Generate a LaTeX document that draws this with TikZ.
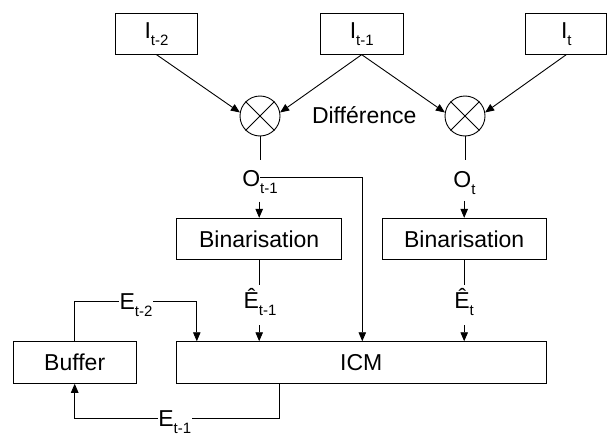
\documentclass[tikz,border=0pt]{standalone}
\usepackage{fontspec}
\setmainfont{Liberation Sans}
\usetikzlibrary{arrows.meta}
\newcommand{\mysub}[1]{\raisebox{-7pt}{\fontsize{15}{15}\selectfont #1}}
\tikzset{
  every node/.style={font=\fontsize{23}{27}\selectfont},
  box/.style={draw, line width=0.9pt, inner sep=0pt, minimum height=41pt},
  mix/.style={draw, line width=0.9pt, circle, minimum size=40pt, inner sep=0pt},
  ln/.style={line width=0.9pt},
  arr/.style={line width=0.9pt, -{Triangle[length=9pt,width=7.5pt]}},
  lbl/.style={inner xsep=0.5pt, inner ysep=0pt, text height=23pt, text depth=7pt}
}
\begin{document}
\begin{tikzpicture}[x=1pt,y=-1pt]
\useasboundingbox (0,0) rectangle (607,436);
% input boxes
\node[box, minimum width=82.5pt] (i2) at (156.5,33.7) {I\mysub{t-2}};
\node[box, minimum width=82.5pt] (i1) at (361.7,33.7) {I\mysub{t-1}};
\node[box, minimum width=81pt] (it) at (566.3,33.7) {I\mysub{t}};
% difference operators
\node[mix] (c1) at (260,116) {};
\node[mix] (c2) at (465,116) {};
\draw[ln] (c1.45) -- (c1.225) (c1.135) -- (c1.315);
\draw[ln] (c2.45) -- (c2.225) (c2.135) -- (c2.315);
\node[anchor=base, inner sep=0pt] (diff) at (364.2,123.3) {Différence};
\draw[arr] (i2.south) -- (c1.170);
\draw[arr] (i1.south) -- (c1.10);
\draw[arr] (i1.south) -- (c2.170);
\draw[arr] (it.south) -- (c2.10);
% O labels
\node[inner sep=0pt, anchor=base, text height=26pt, text depth=15.5pt] (o1) at (260,186) {O\mysub{t-1}};
\node[inner sep=0pt, anchor=base, text height=26.5pt, text depth=13.7pt] (o2) at (464.5,187) {O\mysub{t}};
\draw[ln] (c1.south) -- (c1.south |- o1.north);
\draw[ln] (c2.south) -- (c2.south |- o2.north);
% binarisation
\node[box, minimum width=165pt] (b1) at (259.2,238.8) {Binarisation};
\node[box, minimum width=163.7pt] (b2) at (464.2,238.8) {Binarisation};
\draw[arr] (b1.north |- o1.south) -- (b1.north);
\draw[arr] (b2.north |- o2.south) -- (b2.north);
% ICM and buffer
\node[box, minimum width=369.3pt, minimum height=41.6pt] (icm) at (361.3,362.5) {ICM};
\node[box, minimum width=122.7pt, minimum height=41.6pt] (buf) at (74.7,362.5) {Buffer};
% O_{t-1} bypass
\coordinate (ostart) at (260,177.3);
\coordinate (ojoin) at (362.3,177.3);
\draw[arr] (ostart) -- (ojoin) -- (ojoin |- icm.north);
% E hat labels
\node[inner sep=0pt, anchor=base, text height=23.3pt, text depth=16.7pt] (h1) at (260,308.3) {Ê\mysub{t-1}};
\node[inner sep=0pt, anchor=base, text height=23.3pt, text depth=16.7pt] (h2) at (464,308.3) {Ê\mysub{t}};
\draw[ln] (b1.south) -- (b1.south |- h1.north);
\draw[ln] (b2.south) -- (b2.south |- h2.north);
\draw[arr] (b1.south |- h1.south) -- (b1.south |- icm.north);
\draw[arr] (b2.south |- h2.south) -- (b2.south |- icm.north);
% feedback loops
\node[lbl] (e2) at (136,301.7) {E\mysub{t-2}};
\node[lbl] (e1) at (174.7,418.5) {E\mysub{t-1}};
\coordinate (icmin) at ([xshift=20.6pt]icm.north west);
\coordinate (icmout) at ([xshift=103.3pt]icm.south west);
\draw[ln] (buf.north) |- (e2.west);
\draw[arr] (e2.east) -| (icmin);
\draw[ln] (icmout) |- (e1.east);
\draw[arr] (e1.west) -| (buf.south);
\end{tikzpicture}
\end{document}
